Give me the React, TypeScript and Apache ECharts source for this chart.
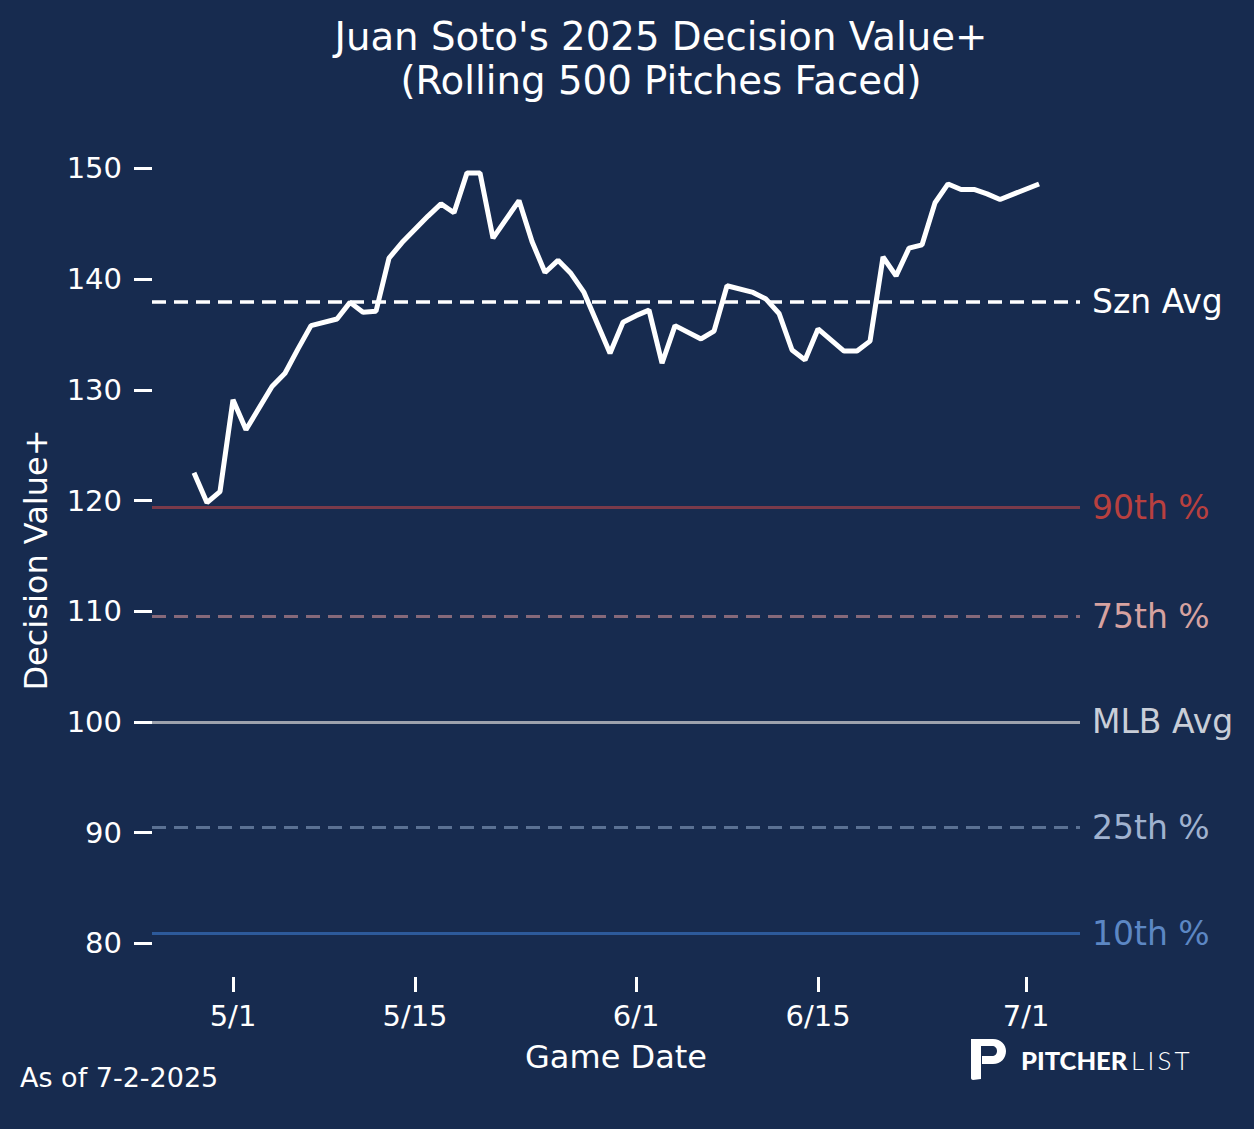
import React, { useEffect, useRef } from "react";
import * as echarts from "echarts";

const DATES = [
  "4/28", "4/29", "4/30", "5/1", "5/2", "5/4", "5/5", "5/6", "5/7", "5/9",
  "5/10", "5/11", "5/12", "5/13", "5/14", "5/15", "5/16", "5/17", "5/18", "5/19",
  "5/20", "5/21", "5/23", "5/24", "5/25", "5/26", "5/27", "5/28", "5/30", "5/31",
  "6/1", "6/2", "6/3", "6/4", "6/6", "6/7", "6/8", "6/10", "6/11", "6/12",
  "6/13", "6/14", "6/15", "6/17", "6/18", "6/19", "6/20", "6/21", "6/22", "6/23",
  "6/24", "6/25", "6/26", "6/27", "6/28", "6/29", "7/2",
];
const VALUES = [
  122.5, 119.8, 120.8, 129.1, 126.4, 130.3, 131.5, 133.7, 135.8, 136.4,
  137.9, 137.0, 137.1, 141.9, 143.3, 144.5, 145.7, 146.8, 146.0, 149.6,
  149.6, 143.7, 147.1, 143.4, 140.6, 141.7, 140.5, 138.8, 133.3, 136.1,
  136.7, 137.2, 132.4, 135.8, 134.6, 135.3, 139.4, 138.8, 138.2, 136.9,
  133.6, 132.7, 135.5, 133.5, 133.5, 134.4, 142.0, 140.3, 142.8, 143.1,
  146.9, 148.6, 148.1, 148.1, 147.7, 147.2, 148.6,
];
const X_TICK_LABELS = ["5/1", "5/15", "6/1", "6/15", "7/1"];
const Y_TICKS = [80, 90, 100, 110, 120, 130, 140, 150];
const REF_NAMES = ["Szn Avg", "90th %", "75th %", "MLB Avg", "25th %", "10th %"];
const REF_VALUES = [138.0, 119.4, 109.5, 100, 90.5, 80.9];

const TITLE_LINES = ["Juan Soto's 2025 Decision Value+", "(Rolling 500 Pitches Faced)"];
const X_NAME = "Game Date";
const Y_NAME = "Decision Value+";
const FOOTNOTE = "As of 7-2-2025";

const P_PATH =
  "M2,2 L24,2 C32,2 37,8 37,14 C37,21 32,27 24,27 L13,27 L13,19 L23,19 C26,19 28,17 28,14 C28,11 26,9 23,9 L12,9 L12,42 L4,43 C3,43 2,42 2,41 Z";
echarts.graphic.registerShape("pitcherP", echarts.graphic.extendPath(P_PATH, {}));

const BG = "#172B4F";
const FONT = "DejaVu Sans";

const REF_STYLES = [
  { line: "#ffffff", label: "#ffffff", type: [14, 8], width: 3.5 },
  { line: "#7a3a4a", label: "#b8403f", type: "solid", width: 3 },
  { line: "#86697a", label: "#d6a2a0", type: [14, 8], width: 3 },
  { line: "#9da2ad", label: "#c9ced8", type: "solid", width: 3 },
  { line: "#5b7193", label: "#a0b2cf", type: [14, 8], width: 3 },
  { line: "#2d5a9b", label: "#5c87c4", type: "solid", width: 3 },
];

function dayOf(s: string): number {
  const [m, d] = s.split("/").map(Number);
  return (Date.UTC(2025, m - 1, d) - Date.UTC(2025, 4, 1)) / 86400000;
}

export default function App() {
  const ref = useRef<HTMLDivElement>(null);
  useEffect(() => {
    if (!ref.current) return;
    const chart = echarts.init(ref.current, undefined, { renderer: "svg" });
    const xTickVals = X_TICK_LABELS.map(dayOf);
    const labelOf: Record<string, string> = {};
    X_TICK_LABELS.forEach((l) => (labelOf[String(dayOf(l))] = l));
    const data = DATES.map((d, i) => [dayOf(d), VALUES[i]]);

    chart.setOption({
      animation: false,
      backgroundColor: BG,
      textStyle: { fontFamily: FONT },
      grid: { left: 152, right: 174, top: 143, bottom: 152 },
      xAxis: {
        type: "value",
        min: -6.23,
        max: 65.15,
        name: X_NAME,
        nameLocation: "middle",
        nameGap: 64,
        nameTextStyle: { color: "#ffffff", fontSize: 32, fontFamily: FONT },
        axisLine: { show: false, onZero: false },
        splitLine: { show: false },
        axisTick: {
          show: true,
          length: 15,
          customValues: xTickVals,
          lineStyle: { color: "#ffffff", width: 3 },
        },
        axisLabel: {
          customValues: xTickVals,
          formatter: (v: number) => labelOf[String(v)] ?? "",
          color: "#ffffff",
          fontSize: 29,
          fontFamily: FONT,
          margin: 24,
        },
      },
      yAxis: {
        type: "value",
        min: 76.95,
        max: 152.3,
        name: Y_NAME,
        nameLocation: "middle",
        nameGap: 100,
        nameTextStyle: { color: "#ffffff", fontSize: 32, fontFamily: FONT },
        axisLine: { show: false, onZero: false },
        splitLine: { show: false },
        axisTick: {
          show: true,
          length: 18,
          customValues: Y_TICKS,
          lineStyle: { color: "#ffffff", width: 3 },
        },
        axisLabel: {
          customValues: Y_TICKS,
          color: "#ffffff",
          fontSize: 29,
          fontFamily: FONT,
          margin: 30,
        },
      },
      series: [
        {
          type: "line",
          data,
          symbol: "none",
          showSymbol: false,
          lineStyle: { color: "#ffffff", width: 5 },
          z: 2,
          markLine: {
            silent: true,
            symbol: "none",
            animation: false,
            data: REF_NAMES.map((name, i) => ({
              name,
              yAxis: REF_VALUES[i],
              lineStyle: {
                color: REF_STYLES[i].line,
                type: REF_STYLES[i].type,
                width: REF_STYLES[i].width,
              },
              label: {
                show: true,
                position: "end",
                formatter: name,
                color: REF_STYLES[i].label,
                fontSize: 33,
                fontFamily: FONT,
                distance: 12,
              },
            })),
          },
        },
      ],
      graphic: [
        {
          type: "text",
          x: 661,
          y: 36,
          style: {
            text: TITLE_LINES[0],
            fill: "#ffffff",
            fontSize: 38.7,
            fontFamily: FONT,
            align: "center",
            verticalAlign: "middle",
          },
        },
        {
          type: "text",
          x: 661,
          y: 80,
          style: {
            text: TITLE_LINES[1],
            fill: "#ffffff",
            fontSize: 38.7,
            fontFamily: FONT,
            align: "center",
            verticalAlign: "middle",
          },
        },
        {
          type: "text",
          x: 20,
          y: 1077,
          style: {
            text: FOOTNOTE,
            fill: "#ffffff",
            fontSize: 27,
            fontFamily: FONT,
            align: "left",
            verticalAlign: "middle",
          },
        },
        {
          type: "pitcherP",
          x: 969,
          y: 1037,
          scaleX: 1,
          scaleY: 1,
          style: { fill: "#ffffff" },
        },
        {
          type: "text",
          x: 1021,
          y: 1060,
          style: {
            text: "PITCHER",
            fill: "#ffffff",
            fontSize: 25.5,
            fontWeight: 900,
            fontFamily: "Lato",
            align: "left",
            verticalAlign: "middle",
          },
        },
        {
          type: "text",
          x: 1131,
          y: 1060,
          style: {
            text: "L\u2009I\u2009S\u2009T",
            fill: "#ffffff",
            fontSize: 26,
            fontWeight: 300,
            fontFamily: "Lato",
            align: "left",
            verticalAlign: "middle",
          },
        },
      ],
    });
    return () => chart.dispose();
  }, []);
  return (
    <div
      ref={ref}
      style={{ position: "fixed", left: 0, top: 0, width: 1254, height: 1129 }}
    />
  );
}
